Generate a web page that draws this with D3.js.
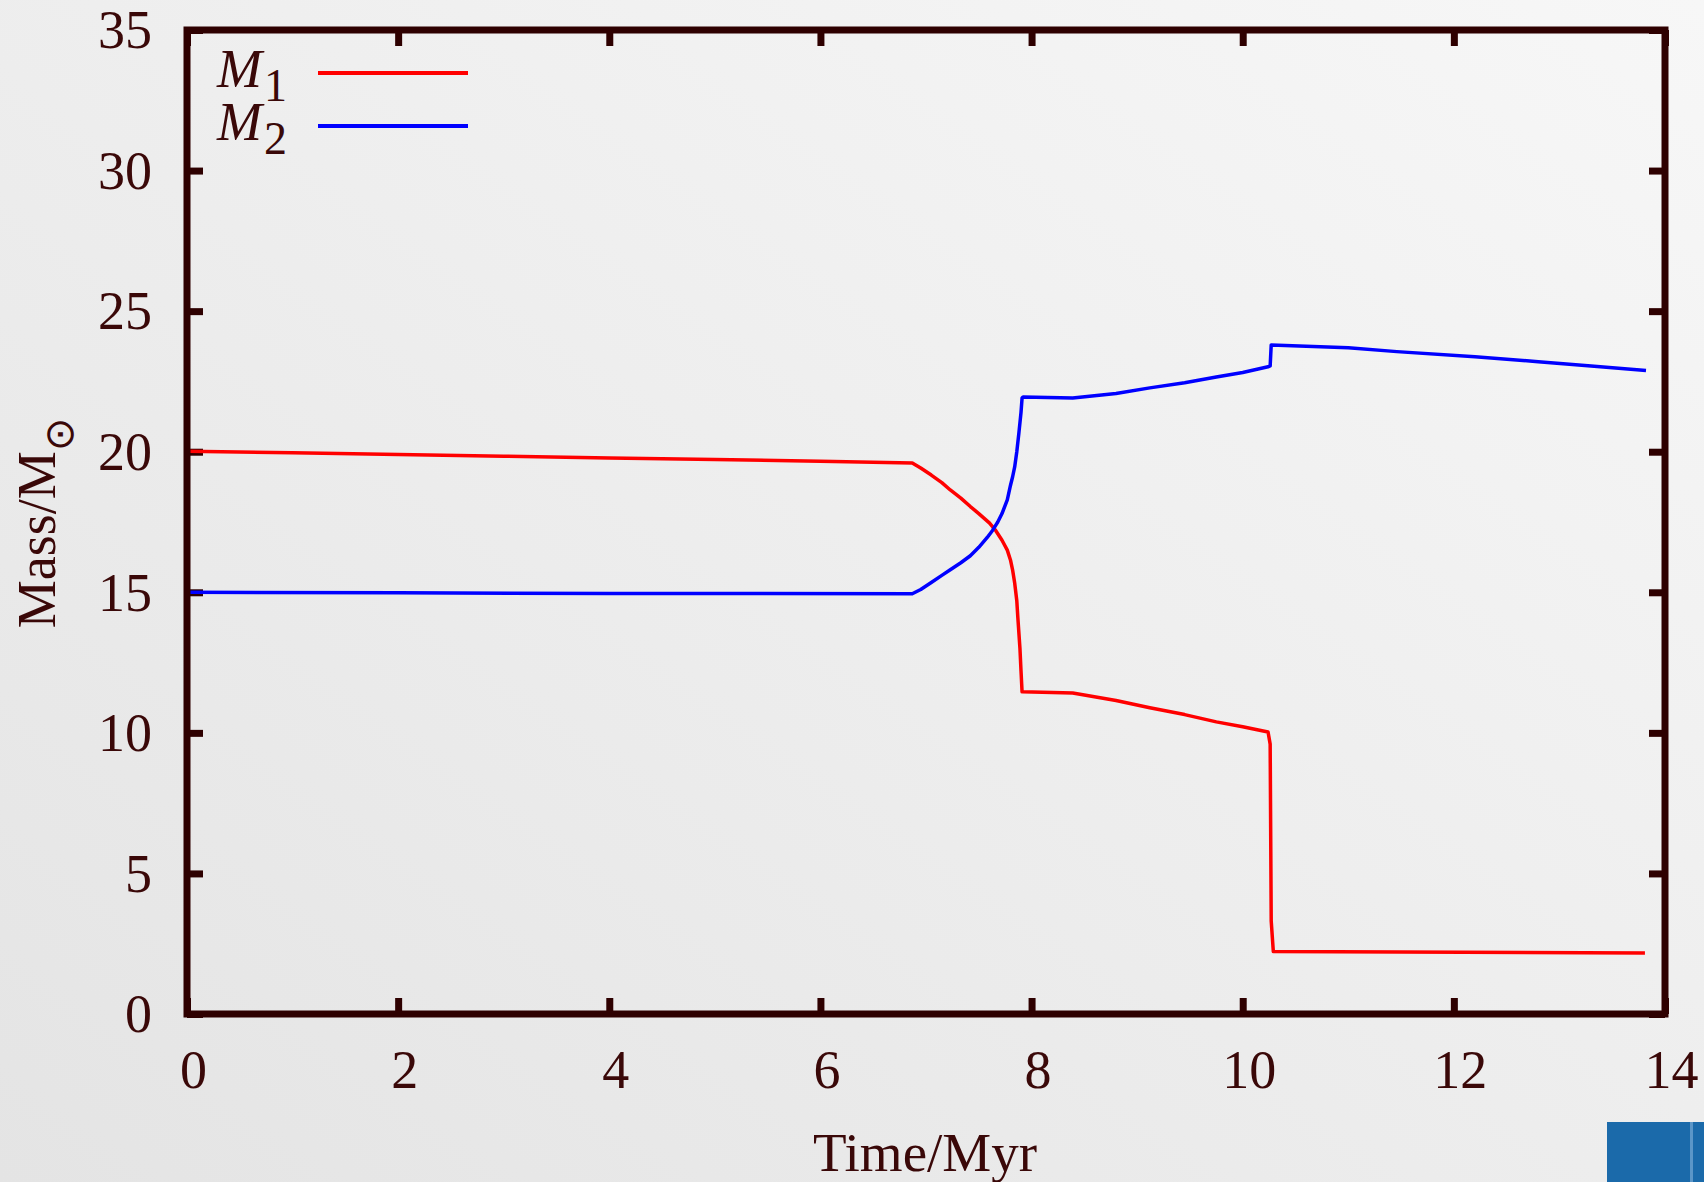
<!DOCTYPE html>
<html>
<head>
<meta charset="utf-8">
<script src="https://cdn.jsdelivr.net/npm/d3@7"></script>
<style>
  html, body { margin: 0; padding: 0; }
  body { width: 1704px; height: 1182px; overflow: hidden; }
  svg { display: block; }
  .axis text { font-family: "Liberation Serif", "Times New Roman", serif; font-size: 54px; fill: #3a0808; }
</style>
</head>
<body>
<svg id="chart" width="1704" height="1182"></svg>
<script>
// Primary star mass M1 (Msun) vs time (Myr)
const timeM1 = [0, 1, 2, 3, 4, 5, 6, 6.87, 6.95, 7.05, 7.15, 7.23, 7.33, 7.42, 7.5, 7.6, 7.66, 7.72, 7.77, 7.8, 7.82, 7.84, 7.86, 7.87, 7.89, 7.9, 7.91,
  8.39, 8.8, 9.12, 9.45, 9.75, 10.0, 10.24, 10.26, 10.27, 10.29, 13.81];
const massM1 = [20.02, 19.96, 19.9, 19.84, 19.78, 19.72, 19.66, 19.6, 19.42, 19.17, 18.9, 18.64, 18.35, 18.05, 17.8, 17.47, 17.2, 16.85, 16.5, 16.15, 15.8, 15.33, 14.7, 14.1, 13.0, 12.2, 11.46,
  11.42, 11.15, 10.89, 10.65, 10.39, 10.22, 10.03, 9.6, 3.3, 2.22, 2.17];

// Secondary star mass M2
const timeM2 = [0, 2, 4, 6.87, 6.95, 7.05, 7.15, 7.23, 7.33, 7.42, 7.5, 7.58, 7.63, 7.68, 7.72, 7.77, 7.8, 7.82, 7.84, 7.86, 7.88, 7.9, 7.91, 7.92,
  8.39, 8.8, 9.12, 9.45, 9.75, 10.0, 10.24, 10.26, 10.27, 11.0, 11.46, 12.2, 12.8, 13.3, 13.82];
const massM2 = [15.0, 14.98, 14.96, 14.95, 15.1, 15.35, 15.6, 15.8, 16.05, 16.3, 16.6, 16.95, 17.2, 17.5, 17.8, 18.29, 18.8, 19.1, 19.46, 20.0, 20.67, 21.4, 21.91, 21.95,
  21.91, 22.07, 22.27, 22.45, 22.66, 22.82, 23.02, 23.05, 23.8, 23.7, 23.56, 23.38, 23.2, 23.05, 22.89];

const xTicks = [0, 2, 4, 6, 8, 10, 12, 14];
const yTicks = [0, 5, 10, 15, 20, 25, 30, 35];

const series = [
  { label: "M", sub: "1", color: "#ff0000", t: timeM1, m: massM1 },
  { label: "M", sub: "2", color: "#0000ff", t: timeM2, m: massM2 },
];

const width = 1704;
const height = 1182;
const plotLeft = 187, plotRight = 1665, plotTop = 30, plotBottom = 1014;
const frameColor = "#2e0000";
const textColor = "#3a0808";

const svg = d3.select("#chart");

// slide-like background
const defs = svg.append("defs");
const grad = defs.append("linearGradient")
  .attr("id", "bg")
  .attr("x1", "100%").attr("y1", "0%")
  .attr("x2", "0%").attr("y2", "100%");
grad.append("stop").attr("offset", "0%").attr("stop-color", "#f7f7f7");
grad.append("stop").attr("offset", "100%").attr("stop-color", "#e4e4e4");
svg.append("rect").attr("width", width).attr("height", height).attr("fill", "url(#bg)");

// blue corner block
svg.append("rect").attr("x", 1607).attr("y", 1122).attr("width", 97).attr("height", 60).attr("fill", "#1b6aaa");
svg.append("rect").attr("x", 1690).attr("y", 1122).attr("width", 3).attr("height", 60).attr("fill", "#5b96c8");

const x = d3.scaleLinear().domain([0, 14]).range([plotLeft, plotRight]);
const y = d3.scaleLinear().domain([0, 35]).range([plotBottom, plotTop]);

// axes: ticks point inward on all four sides
const tickLen = 16;
function styleAxis(g) {
  g.select(".domain").remove();
  g.selectAll(".tick line").attr("stroke", frameColor).attr("stroke-width", 7);
}

svg.append("g")
  .attr("class", "axis")
  .attr("transform", `translate(0,${plotBottom})`)
  .call(d3.axisBottom(x).tickValues(xTicks).tickSizeInner(-tickLen).tickSizeOuter(0).tickPadding(36))
  .call(styleAxis)
  .selectAll("text").attr("dx", 6);

svg.append("g")
  .attr("class", "axis")
  .attr("transform", `translate(0,${plotTop})`)
  .call(d3.axisTop(x).tickValues(xTicks).tickSizeInner(-tickLen).tickSizeOuter(0).tickFormat(""))
  .call(styleAxis);

svg.append("g")
  .attr("class", "axis")
  .attr("transform", `translate(${plotLeft},0)`)
  .call(d3.axisLeft(y).tickValues(yTicks).tickSizeInner(-tickLen).tickSizeOuter(0).tickPadding(35))
  .call(styleAxis)
  .selectAll("text").attr("dy", "0.33em");

svg.append("g")
  .attr("class", "axis")
  .attr("transform", `translate(${plotRight},0)`)
  .call(d3.axisRight(y).tickValues(yTicks).tickSizeInner(-tickLen).tickSizeOuter(0).tickFormat(""))
  .call(styleAxis);

// data lines
const line = d3.line()
  .x((d) => x(d[0]))
  .y((d) => y(d[1]));

series.forEach((s) => {
  svg.append("path")
    .datum(s.t.map((t, i) => [t, s.m[i]]))
    .attr("fill", "none")
    .attr("stroke", s.color)
    .attr("stroke-width", 3.5)
    .attr("stroke-linejoin", "round")
    .attr("d", line);
});

// frame
svg.append("rect")
  .attr("x", plotLeft).attr("y", plotTop)
  .attr("width", plotRight - plotLeft).attr("height", plotBottom - plotTop)
  .attr("fill", "none")
  .attr("stroke", frameColor)
  .attr("stroke-width", 7);

// legend
const legend = svg.append("g").attr("font-family", "Liberation Serif, Times New Roman, serif").attr("fill", textColor);
series.forEach((s, i) => {
  const baseY = 87 + i * 53;
  const t = legend.append("text")
    .attr("x", 217)
    .attr("y", baseY)
    .attr("font-size", 54);
  t.append("tspan").attr("font-style", "italic").text(s.label);
  t.append("tspan").attr("dx", 2).attr("dy", 14).attr("font-size", 46).text(s.sub);
  legend.append("line")
    .attr("x1", 318).attr("x2", 468)
    .attr("y1", baseY - 14).attr("y2", baseY - 14)
    .attr("stroke", s.color)
    .attr("stroke-width", 4);
});

// axis titles
svg.append("text")
  .attr("x", 925)
  .attr("y", 1171)
  .attr("text-anchor", "middle")
  .attr("font-family", "Liberation Serif, Times New Roman, serif")
  .attr("font-size", 55)
  .attr("fill", textColor)
  .text("Time/Myr");

const yTitle = svg.append("text")
  .attr("transform", "translate(55,523) rotate(-90)")
  .attr("text-anchor", "middle")
  .attr("font-family", "Liberation Serif, Times New Roman, serif")
  .attr("font-size", 54)
  .attr("fill", textColor);
yTitle.append("tspan").text("Mass/M");
yTitle.append("tspan").attr("dy", 18).attr("font-size", 40).attr("font-family", "DejaVu Sans").text("⊙");
</script>
</body>
</html>
